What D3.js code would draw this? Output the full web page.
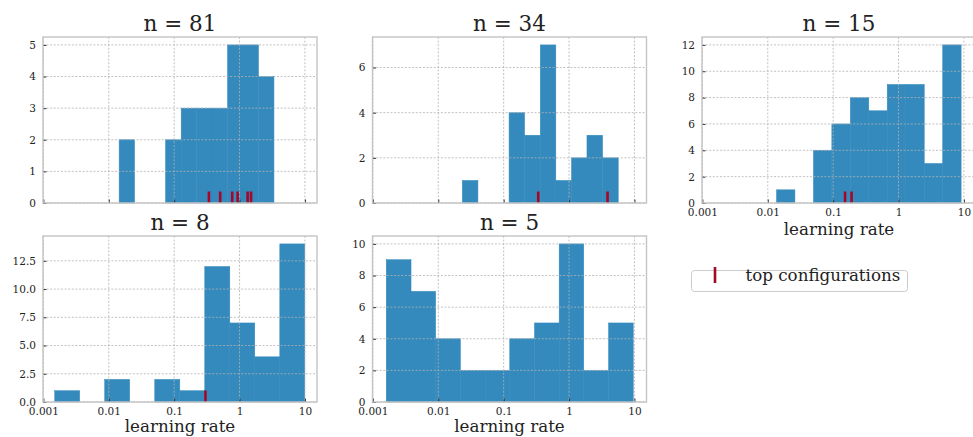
<!DOCTYPE html>
<html>
<head>
<meta charset="utf-8">
<script src="https://cdn.jsdelivr.net/npm/d3@7"></script>
<style>
  body { margin: 0; background: #fff; }
  svg text { font-family: "DejaVu Serif", serif; fill: #222; }
</style>
</head>
<body>
<svg id="chart" width="973" height="437"></svg>
<script>
// one entry per panel
var titles = ["n = 81", "n = 34", "n = 15", "n = 8", "n = 5"];

var edges81 = [0.0144, 0.0248, 0.0428, 0.0738, 0.128, 0.220, 0.379, 0.655, 1.13, 1.95, 3.36];
var counts81 = [2, 0, 0, 2, 3, 3, 3, 5, 5, 4];
var top81 = [0.340, 0.506, 0.773, 0.935, 1.33, 1.50];

var edges34 = [0.0233, 0.0404, 0.0698, 0.121, 0.209, 0.363, 0.628, 1.09, 1.88, 3.26, 5.65];
var counts34 = [1, 0, 0, 4, 3, 7, 1, 2, 3, 2];
var top34 = [0.338, 3.88];

var edges15 = [0.0136, 0.0260, 0.0499, 0.0955, 0.183, 0.351, 0.671, 1.29, 2.47, 4.73, 9.06];
var counts15 = [1, 0, 4, 6, 8, 7, 9, 9, 3, 12];
var top15 = [0.152, 0.191];

var edges8 = [0.00149, 0.00359, 0.00866, 0.0209, 0.0505, 0.122, 0.294, 0.710, 1.71, 4.13, 9.96];
var counts8 = [1, 0, 2, 0, 2, 1, 12, 7, 4, 14];
var top8 = [0.301];

var edges5 = [0.00160, 0.00383, 0.00912, 0.0218, 0.0520, 0.124, 0.296, 0.706, 1.68, 4.02, 9.59];
var counts5 = [9, 7, 4, 2, 2, 4, 5, 10, 2, 5];
var top5 = [];

var xTicks = [0.001, 0.01, 0.1, 1, 10];
var xTickLabels = ["0.001", "0.01", "0.1", "1", "10"];
var yTicks = [[0, 1, 2, 3, 4, 5], [0, 2, 4, 6], [0, 2, 4, 6, 8, 10, 12],
              [0, 2.5, 5, 7.5, 10, 12.5], [0, 2, 4, 6, 8, 10]];
var yMax = [5, 7, 12, 14, 10];
var legendLabel = "top configurations";

var panels = [
  {edges: edges81, counts: counts81, tops: top81, left: 43, top: 37, xlab: false},
  {edges: edges34, counts: counts34, tops: top34, left: 372.5, top: 37, xlab: false},
  {edges: edges15, counts: counts15, tops: top15, left: 702, top: 37, xlab: true, labY: 31.6},
  {edges: edges8, counts: counts8, tops: top8, left: 43, top: 236, xlab: true, labY: 29.5},
  {edges: edges5, counts: counts5, tops: top5, left: 372.5, top: 236, xlab: true, labY: 29.5}
];

var W = 274, H = 166;
var blue = "#348ABD", red = "#A60628";
var svg = d3.select("#chart");

panels.forEach(function(p, k) {
  var x = d3.scaleLog().domain([0.000986, 15.3]).range([0, W]);
  var y = d3.scaleLinear().domain([0, yMax[k] * 1.05]).range([H, 0]);
  var g = svg.append("g").attr("transform", "translate(" + p.left + "," + p.top + ")");

  var bins = p.counts.map(function(c, i) { return {x0: p.edges[i], x1: p.edges[i + 1], c: c}; });
  g.selectAll("rect.bar").data(bins.filter(function(d) { return d.c > 0; })).enter().append("rect")
    .attr("class", "bar")
    .attr("x", function(d) { return x(d.x0); })
    .attr("width", function(d) { return x(d.x1) - x(d.x0); })
    .attr("y", function(d) { return y(d.c); })
    .attr("height", function(d) { return H - y(d.c); })
    .attr("fill", blue).attr("stroke", blue).attr("stroke-width", 0.5);

  // grid (drawn over the bars, like the original)
  g.selectAll("line.gx").data(xTicks).enter().append("line")
    .attr("x1", function(d) { return x(d); }).attr("x2", function(d) { return x(d); })
    .attr("y1", 0).attr("y2", H)
    .attr("stroke", "#b2b2b2").attr("stroke-width", 0.8).attr("stroke-dasharray", "2,1.6");
  g.selectAll("line.gy").data(yTicks[k]).enter().append("line")
    .attr("x1", 0).attr("x2", W)
    .attr("y1", function(d) { return y(d); }).attr("y2", function(d) { return y(d); })
    .attr("stroke", "#b2b2b2").attr("stroke-width", 0.8).attr("stroke-dasharray", "2,1.6");

  // top configurations, clipped marker at y = 0
  g.selectAll("line.top").data(p.tops).enter().append("line")
    .attr("x1", function(d) { return x(d); }).attr("x2", function(d) { return x(d); })
    .attr("y1", H - 11.5).attr("y2", H)
    .attr("stroke", red).attr("stroke-width", 2.6);

  // axes
  var yAxis = d3.axisLeft(y).tickValues(yTicks[k]).tickSizeInner(-3.5).tickSizeOuter(0).tickPadding(7)
    .tickFormat(k == 3 ? d3.format(".1f") : d3.format("d"));
  var ya = g.append("g").call(yAxis);
  var xAxis = d3.axisBottom(x).tickValues(xTicks).tickSizeInner(-3.5).tickSizeOuter(0).tickPadding(6)
    .tickFormat(function(d, i) { return p.xlab ? xTickLabels[i] : ""; });
  var xa = g.append("g").attr("transform", "translate(0," + H + ")").call(xAxis);
  [ya, xa].forEach(function(a) {
    a.select(".domain").remove();
    a.selectAll(".tick line").attr("stroke", "#333").attr("stroke-width", 1);
    a.selectAll("text").attr("font-size", "10.5px").attr("font-family", "DejaVu Serif").attr("fill", "#222");
  });

  g.append("rect").attr("x", 0).attr("y", 0).attr("width", W).attr("height", H)
    .attr("fill", "none").attr("stroke", "#c4c4c4").attr("stroke-width", 1.4);

  g.append("text").attr("x", W / 2).attr("y", -6).attr("text-anchor", "middle")
    .attr("font-size", "21.5px").text(titles[k]);

  if (p.xlab) {
    g.append("text").attr("x", W / 2).attr("y", H + p.labY).attr("text-anchor", "middle")
      .attr("font-size", "16.7px").text("learning rate");
  }
});

// legend
var lg = svg.append("g");
lg.append("rect").attr("x", 691.5).attr("y", 270.5).attr("width", 216).attr("height", 21)
  .attr("rx", 3).attr("fill", "#fff").attr("stroke", "#cccccc").attr("stroke-width", 1);
lg.append("line").attr("x1", 715).attr("x2", 715).attr("y1", 267).attr("y2", 283)
  .attr("stroke", red).attr("stroke-width", 2.6);
lg.append("text").attr("x", 745.5).attr("y", 281).attr("font-size", "16.7px").text(legendLabel);
</script>
</body>
</html>
